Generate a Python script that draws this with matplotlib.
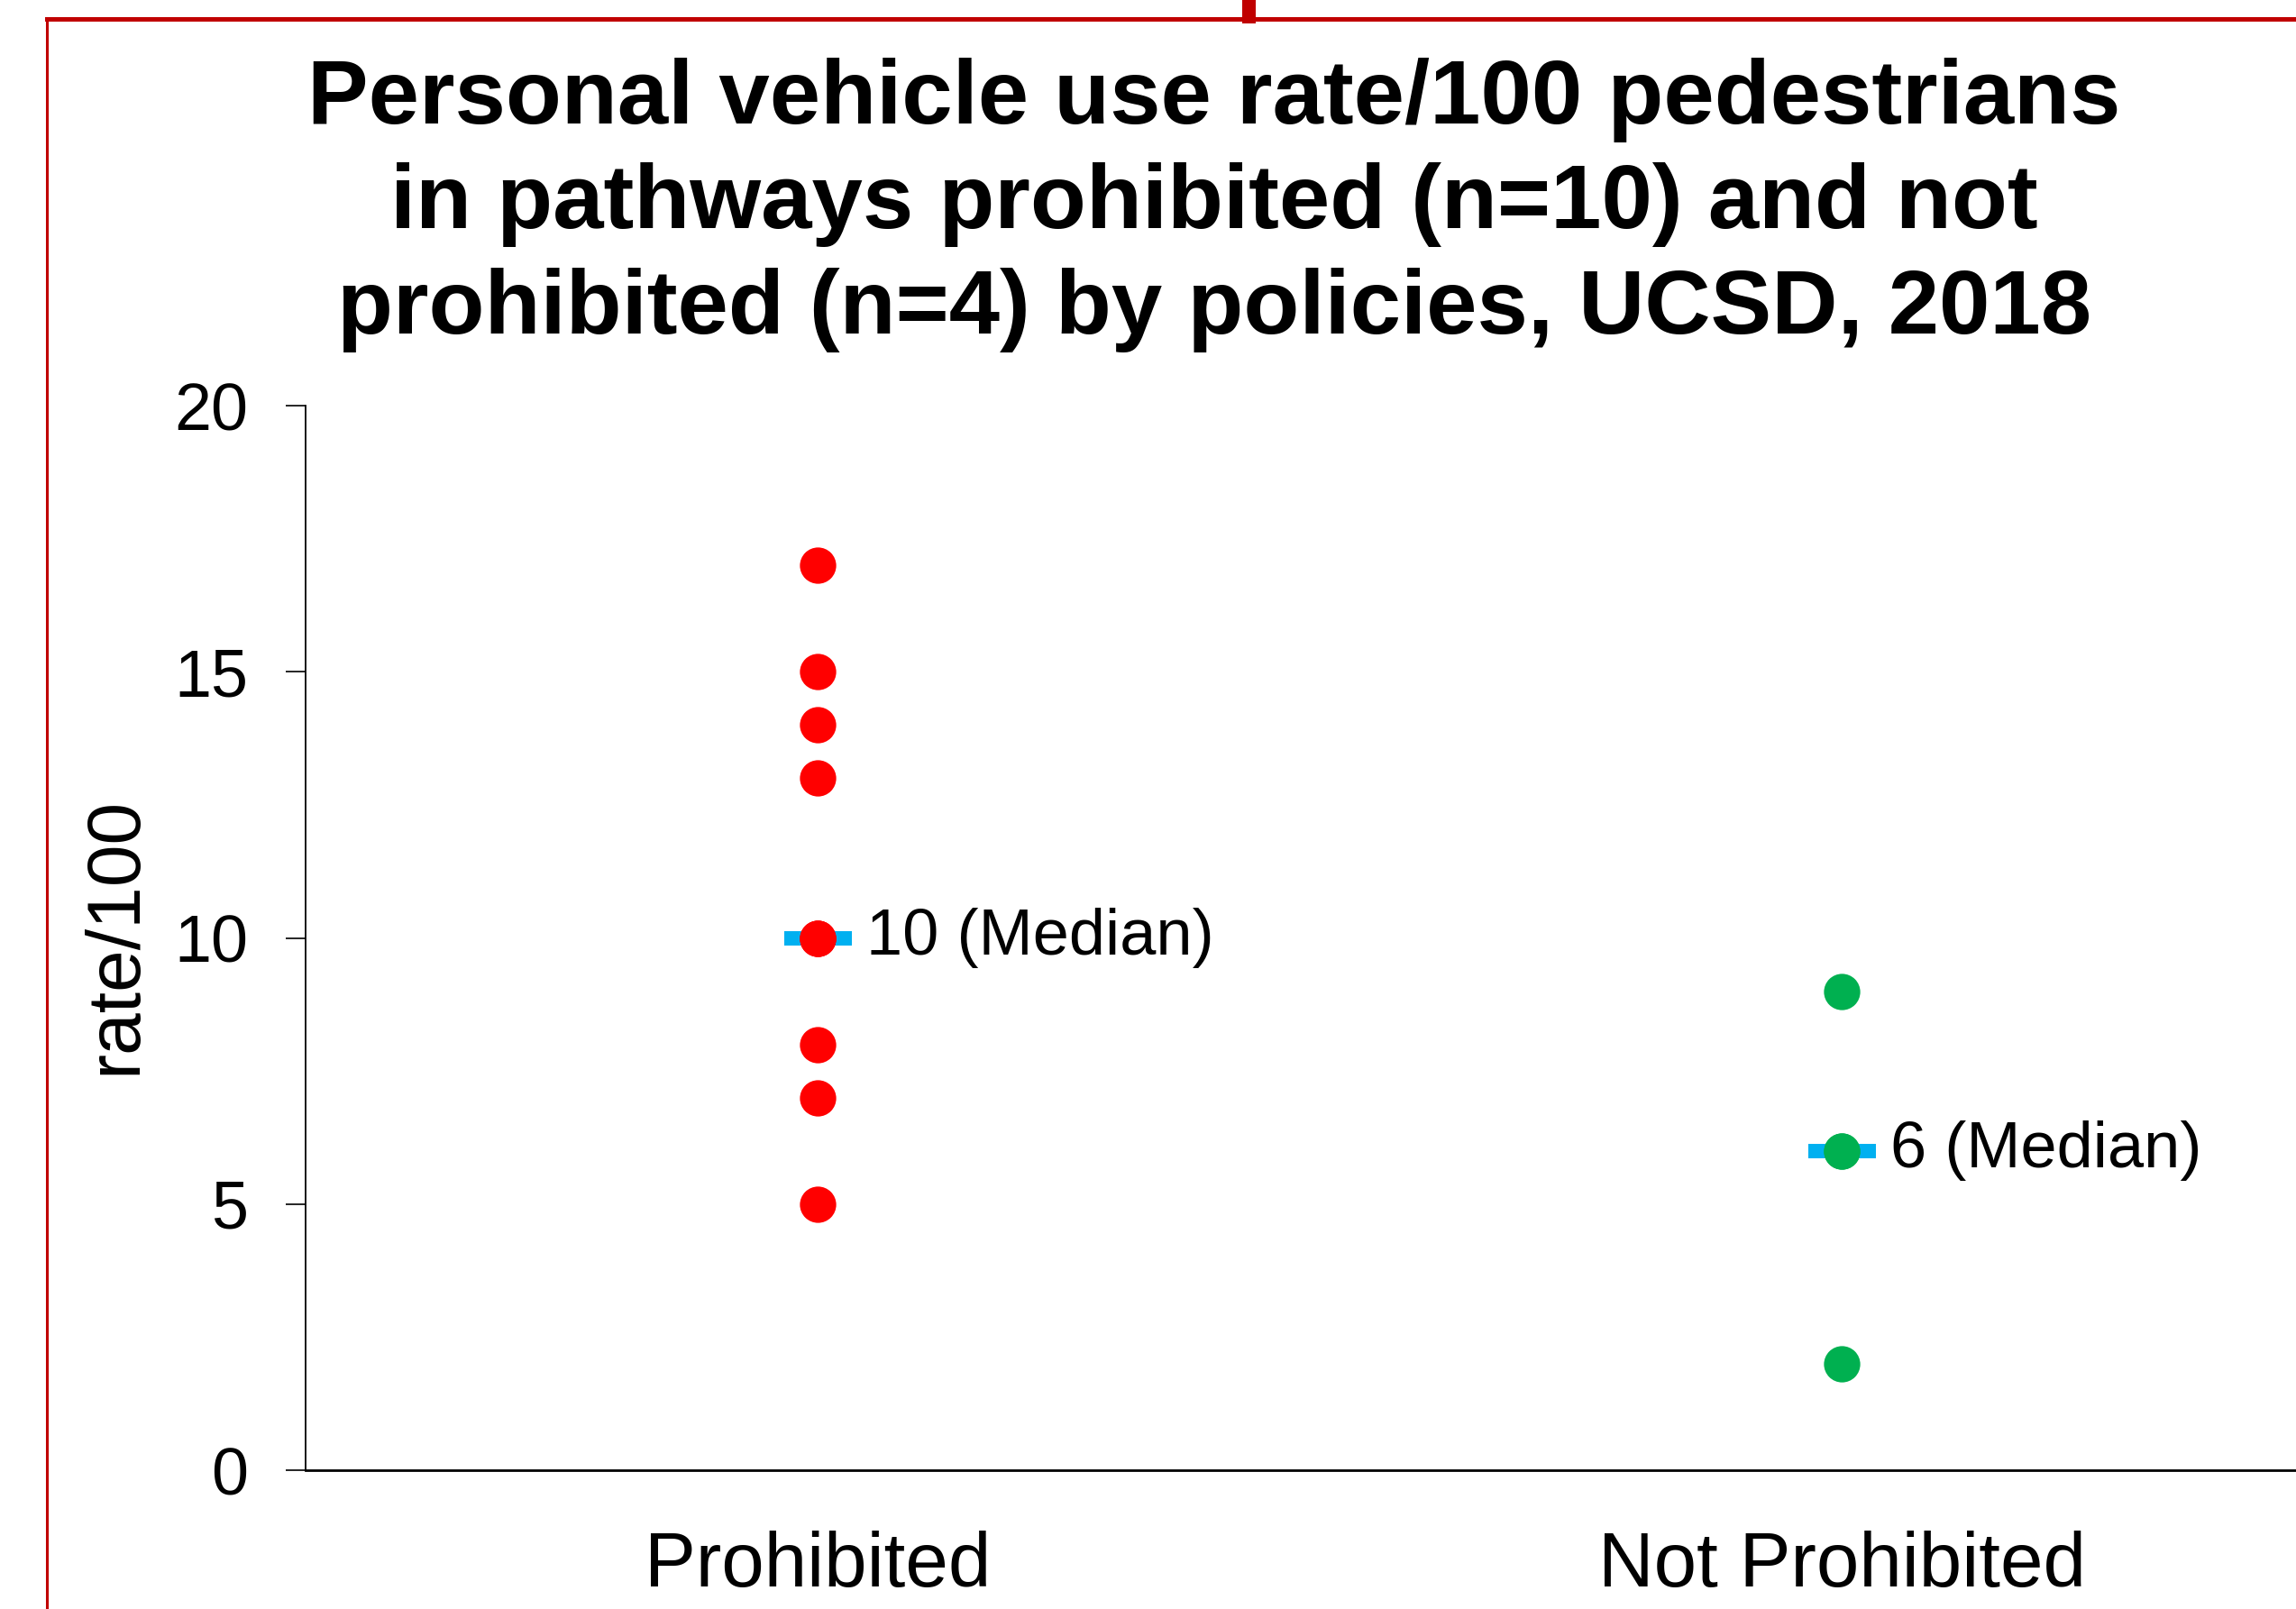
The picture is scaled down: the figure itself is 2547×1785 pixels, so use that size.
import matplotlib.pyplot as plt
from matplotlib.lines import Line2D

plt.rcParams['font.family'] = ['Liberation Sans', 'DejaVu Sans']

# ======== DATA ========
categories = ["Prohibited", "Not Prohibited"]
prohibited = [17, 15, 14, 13, 10, 10, 10, 8, 7, 5]
not_prohibited = [9, 6, 6, 2]
medians = [10, 6]
median_labels = ["10 (Median)", "6 (Median)"]
colors = ["#FF0000", "#00B050"]
title_lines = [
    "Personal vehicle use rate/100 pedestrians",
    "in pathways prohibited (n=10) and not",
    "prohibited (n=4) by policies, UCSD, 2018",
]
yticks = [0, 5, 10, 15, 20]

W, H = 2547, 1785
fig = plt.figure(figsize=(W / 100, H / 100), dpi=100)

# axes run past the right edge like the original slide
ax = fig.add_axes([339 / W, 1 - 1631 / H, 2272 / W, (1631 - 450) / H])

groups = [prohibited, not_prohibited]
xpos = [0.5, 1.5]
for x, vals, med, lab, c in zip(xpos, groups, medians, median_labels, colors):
    ax.plot([x], [med], marker='_', ms=54, mew=11.5, color='#00B0F0', zorder=2,
            clip_on=False)
    ax.plot([x] * len(vals), vals, 'o', ms=29, mec='none', color=c, zorder=3,
            clip_on=False)
    ax.annotate(lab, (x, med), xytext=(39, 0), textcoords='offset points',
                ha='left', va='center', fontsize=52)

ax.set_xlim(0, 2)
ax.set_ylim(0, 20)
ax.set_xticks(xpos)
ax.set_xticklabels(categories, fontsize=61.5)
ax.set_yticks(yticks)
ax.set_yticklabels([str(v) for v in yticks], fontsize=53)
ax.tick_params(axis='x', length=0, pad=48)
ax.tick_params(axis='y', direction='out', length=16, width=1.2, pad=30)
ax.spines['top'].set_visible(False)
ax.spines['right'].set_visible(False)
ax.spines['left'].set_linewidth(1.3)
ax.spines['bottom'].set_linewidth(2)

fig.text(128 / W, 1 - 1038 / H, "rate/100", rotation=90, ha='center', va='center',
         fontsize=60.5)

for line, base in zip(title_lines, [137, 253, 370]):
    fig.text(1347 / W, 1 - base / H, line, ha='center', va='baseline',
             fontsize=73, fontweight='bold')

# red slide frame
red = "#C00000"
fig.add_artist(Line2D([52 / W, 1], [1 - 21 / H, 1 - 21 / H], color=red, lw=3.6))
fig.add_artist(Line2D([52 / W, 52 / W], [0, 1 - 21 / H], color=red, lw=2.2))
fig.add_artist(Line2D([1385 / W, 1385 / W], [1, 1 - 18 / H], color=red, lw=10.8))

plt.savefig("out.png", dpi=100)
